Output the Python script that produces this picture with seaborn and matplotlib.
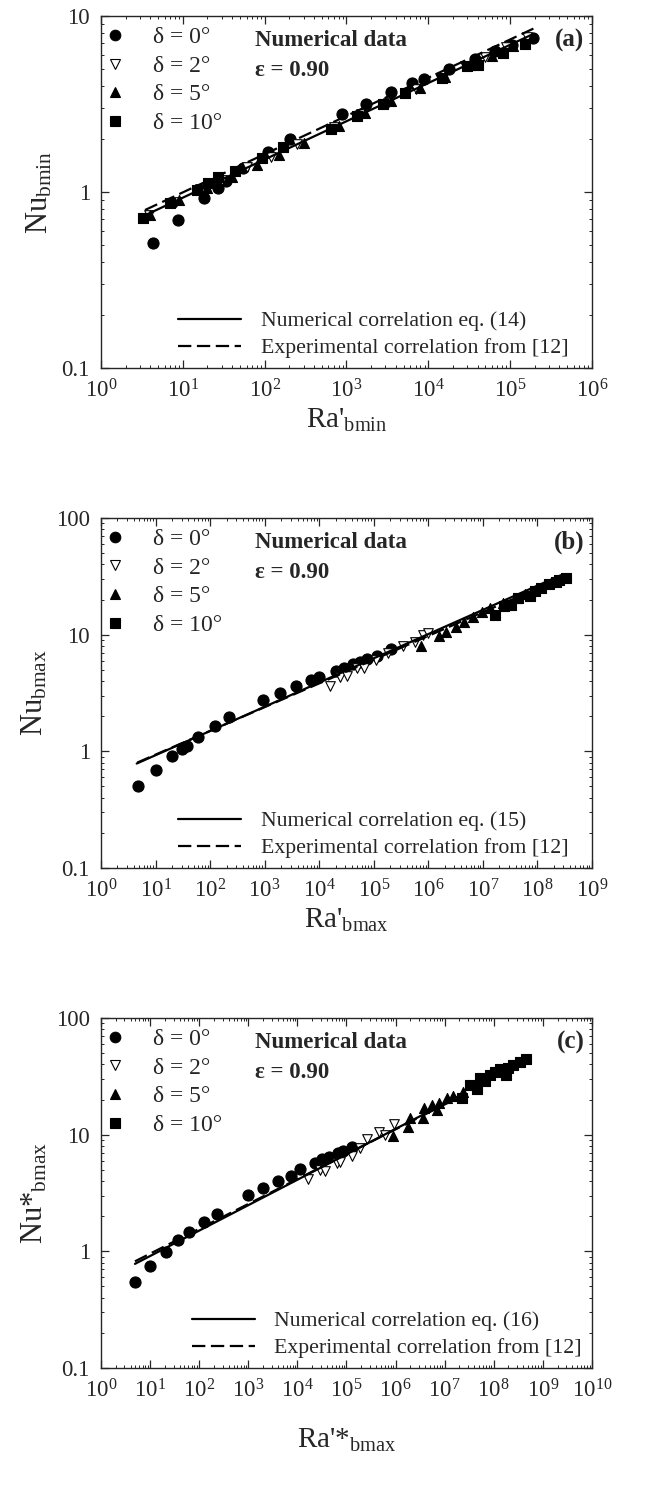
import numpy as np
import pandas as pd
import seaborn as sns
import matplotlib.pyplot as plt
from matplotlib.lines import Line2D
from matplotlib.ticker import LogLocator, FuncFormatter, NullFormatter

# ---- panel (a): Nu_bmin vs Ra'_bmin ----
a_d0_x = [4.36, 8.8, 18.3, 26.7, 33.8, 55, 111, 204, 871, 1725, 3510, 6395, 8970, 18100, 37300, 65600, 105000, 193000]
a_d0_y = [0.51, 0.69, 0.92, 1.05, 1.15, 1.36, 1.69, 1.99, 2.76, 3.17, 3.68, 4.14, 4.38, 4.98, 5.72, 6.31, 6.88, 7.53]
a_d2_x = [3.8, 8.2, 16, 30, 60, 120, 250, 700, 1500, 3200, 7000, 14000, 28000, 50000, 90000, 160000]
a_d2_y = [0.74, 0.88, 1.04, 1.17, 1.38, 1.58, 1.88, 2.33, 2.76, 3.22, 3.86, 4.45, 5.22, 5.88, 6.7, 7.55]
a_d5_x = [4.0, 9, 20, 40, 80, 150, 300, 800, 1700, 3500, 8000, 16000, 32000, 60000, 110000]
a_d5_y = [0.74, 0.9, 1.06, 1.22, 1.42, 1.63, 1.9, 2.38, 2.8, 3.28, 3.9, 4.5, 5.3, 5.95, 6.75]
a_d10_x = [3.29, 7.0, 14.8, 20.5, 27.2, 43.5, 92, 169, 643, 1336, 2826, 5200, 14600, 29600, 41000, 82800, 151000]
a_d10_y = [0.71, 0.865, 1.03, 1.12, 1.21, 1.32, 1.56, 1.79, 2.29, 2.71, 3.17, 3.64, 4.46, 5.18, 5.28, 6.13, 6.96]
a_num_x, a_num_y = [3.3, 185000], [0.73, 7.84]
a_exp_x, a_exp_y = [3.45, 193000], [0.79, 8.48]

# ---- panel (b): Nu_bmax vs Ra'_bmax ----
b_d0_x = [4.8, 10, 20, 30, 38, 60, 122, 224, 940, 1900, 3830, 7010, 9830, 20700, 28200, 41800, 55400, 75400, 115000, 211000]
b_d0_y = [0.505, 0.69, 0.91, 1.04, 1.11, 1.33, 1.66, 1.95, 2.73, 3.17, 3.6, 4.05, 4.3, 4.92, 5.16, 5.6, 5.87, 6.24, 6.61, 7.52]
b_d2_x = [15600, 24500, 33000, 50200, 66500, 112000, 183000, 344000, 564000, 802000, 989000]
b_d2_y = [3.6, 4.33, 4.38, 5.16, 5.16, 6.05, 6.93, 7.98, 8.6, 9.97, 10.3]
b_d5_x = [746000, 1.55e6, 2.1e6, 3.27e6, 4.5e6, 6.59e6, 9.5e6, 1.33e7, 2.34e7, 4.1e7, 6e7]
b_d5_y = [7.98, 9.68, 10.5, 11.7, 12.9, 14.2, 15.6, 16.9, 18.8, 20.8, 22.5]
b_d10_x = [1.71e7, 2.4e7, 3.32e7, 4.5e7, 7.2e7, 9e7, 1.18e8, 1.67e8, 2.2e8, 2.55e8, 3.38e8]
b_d10_y = [14.6, 17.5, 18.0, 20.5, 21.4, 23.5, 24.9, 27.0, 28.5, 29.5, 30.8]
b_num_x, b_num_y = [4.5, 3e8], [0.785, 33.0]
b_exp_x, b_exp_y = [4.6, 3.2e8], [0.80, 31.5]

# ---- panel (c): Nu*_bmax vs Ra'*_bmax ----
c_d0_x = [4.9, 10, 20.7, 36.5, 62, 127, 227, 1000, 2020, 4090, 7400, 11300, 22800, 32200, 44700, 68200, 86300, 128000]
c_d0_y = [0.55, 0.75, 0.98, 1.24, 1.45, 1.78, 2.1, 3.04, 3.5, 4.0, 4.46, 5.07, 5.7, 6.23, 6.49, 7.0, 7.3, 7.89]
c_d2_x = [16700, 28900, 36500, 63000, 73800, 128000, 188000, 257000, 465000, 608000, 927000]
c_d2_y = [4.13, 4.93, 4.87, 5.7, 5.78, 6.6, 7.65, 9.1, 10.6, 9.96, 12.3]
c_d5_x = [871000, 1.81e6, 1.96e6, 3.67e6, 3.85e6, 5.43e6, 6.88e6, 7.65e6, 1.1e7, 1.5e7, 2.4e7]
c_d5_y = [9.7, 11.6, 13.9, 13.9, 16.9, 18.0, 16.2, 18.7, 20.8, 21.5, 23.4]
c_d10_x = [2.21e7, 3.27e7, 4.48e7, 5.23e7, 6.62e7, 8.37e7, 1.06e8, 1.34e8, 1.77e8, 1.98e8, 2.5e8, 3.42e8, 4.53e8]
c_d10_y = [20.8, 26.6, 24.8, 30.6, 28.7, 32.3, 34.5, 36.4, 32.6, 37.5, 39.7, 42.1, 44.6]
c_num_x, c_num_y = [4.9, 2e7], [0.78, 21.5]
c_exp_x, c_exp_y = [4.9, 2e7], [0.82, 21.0]

delta_labels = ['δ = 0°', 'δ = 2°', 'δ = 5°', 'δ = 10°']

sns.set_style('ticks')
plt.rcParams['font.family'] = ['Liberation Serif', 'DejaVu Serif']
plt.rcParams['mathtext.fontset'] = 'custom'
plt.rcParams['mathtext.rm'] = 'Liberation Serif'
plt.rcParams['mathtext.it'] = 'Liberation Serif:italic'
plt.rcParams['mathtext.bf'] = 'Liberation Serif:bold'
plt.rcParams['font.size'] = 16
plt.rcParams['axes.linewidth'] = 1.0

fig = plt.figure(figsize=(6.65, 14.97), dpi=100)

# marker styles: (marker, face, size)
mstyles = [('o', 'black', 64), ('v', 'white', 48), ('^', 'black', 52), ('s', 'black', 48)]

panels = [
    dict(rect=[0.152, 0.7542, 0.738, 0.2351],
         pts=[(a_d0_x, a_d0_y), (a_d2_x, a_d2_y), (a_d5_x, a_d5_y), (a_d10_x, a_d10_y)],
         num=(a_num_x, a_num_y), exp=(a_exp_x, a_exp_y),
         xlim=(1, 1e6), ylim=(0.1, 10), tag='(a)', eq='Numerical correlation eq. (14)',
         xlabel="Ra'$_{\\mathrm{bmin}}$", ylabel="Nu$_{\\mathrm{bmin}}$", xpad=3, legx=0.972),
    dict(rect=[0.152, 0.4202, 0.738, 0.2338],
         pts=[(b_d0_x, b_d0_y), (b_d2_x, b_d2_y), (b_d5_x, b_d5_y), (b_d10_x, b_d10_y)],
         num=(b_num_x, b_num_y), exp=(b_exp_x, b_exp_y),
         xlim=(1, 1e9), ylim=(0.1, 100), tag='(b)', eq='Numerical correlation eq. (15)',
         xlabel="Ra'$_{\\mathrm{bmax}}$", ylabel="Nu$_{\\mathrm{bmax}}$", xpad=3, legx=0.972),
    dict(rect=[0.152, 0.0862, 0.738, 0.2338],
         pts=[(c_d0_x, c_d0_y), (c_d2_x, c_d2_y), (c_d5_x, c_d5_y), (c_d10_x, c_d10_y)],
         num=(c_num_x, c_num_y), exp=(c_exp_x, c_exp_y),
         xlim=(1, 1e10), ylim=(0.1, 100), tag='(c)', eq='Numerical correlation eq. (16)',
         xlabel="Ra'*$_{\\mathrm{bmax}}$", ylabel="Nu*$_{\\mathrm{bmax}}$", xpad=18, legx=1.0),
]

for p in panels:
    ax = fig.add_axes(p['rect'])
    for (xs, ys), (m, fc, s) in zip(p['pts'], mstyles):
        sns.scatterplot(x=xs, y=ys, marker=m, color=fc, edgecolor='black',
                        linewidth=0.8, s=s, ax=ax, zorder=3)
    sns.lineplot(x=p['num'][0], y=p['num'][1], color='black', lw=1.6, ax=ax, zorder=4)
    sns.lineplot(x=p['exp'][0], y=p['exp'][1], color='black', lw=1.6, ax=ax, zorder=4,
                 linestyle=(0, (6, 2.5)))
    ax.set_xscale('log')
    ax.set_yscale('log')
    ax.set_xlim(*p['xlim'])
    ax.set_ylim(*p['ylim'])

    ax.xaxis.set_major_locator(LogLocator(base=10, numticks=30))
    ax.xaxis.set_minor_locator(LogLocator(base=10, subs=np.arange(2, 10), numticks=200))
    ax.xaxis.set_minor_formatter(NullFormatter())
    ax.yaxis.set_major_locator(LogLocator(base=10, numticks=30))
    ax.yaxis.set_minor_locator(LogLocator(base=10, subs=np.arange(2, 10), numticks=200))
    ax.yaxis.set_major_formatter(FuncFormatter(lambda v, _: f'{v:g}'))
    ax.yaxis.set_minor_formatter(NullFormatter())
    ax.tick_params(which='both', direction='in', top=True, right=True, labelsize=16.5)
    ax.tick_params(which='major', length=5.5, width=0.9, pad=8)
    ax.tick_params(which='minor', length=2.5, width=0.7)

    ax.set_xlabel(p['xlabel'], fontsize=21, labelpad=p['xpad'])
    ax.set_ylabel(p['ylabel'], fontsize=22, labelpad=5)

    mh = [Line2D([], [], linestyle='none', marker=m, markerfacecolor=fc, markeredgecolor='black',
                 markeredgewidth=0.8, markersize=np.sqrt(s) * 0.95)
          for (m, fc, s) in mstyles]
    leg1 = ax.legend(mh, delta_labels, loc='upper left', bbox_to_anchor=(-0.012, 1.0),
                     frameon=False, fontsize=17, handlelength=0.8, handletextpad=1.2,
                     labelspacing=0.3, borderaxespad=0.05)
    ax.add_artist(leg1)
    lh = [Line2D([], [], color='black', lw=1.6),
          Line2D([], [], color='black', lw=1.6, linestyle=(0, (6, 2.5)))]
    ax.legend(lh, [p['eq'], 'Experimental correlation from [12]'], loc='lower right',
              bbox_to_anchor=(p['legx'], 0.0), frameon=False, fontsize=15.7, handlelength=2.9,
              handletextpad=0.9, labelspacing=0.3, borderaxespad=0.05)

    ax.text(0.314, 0.93, 'Numerical data', transform=ax.transAxes, fontsize=16.5,
            fontweight='bold', va='center', ha='left')
    ax.text(0.314, 0.845, 'ε = 0.90', transform=ax.transAxes, fontsize=16.5,
            fontweight='bold', va='center', ha='left')
    ax.text(0.985, 0.93, p['tag'], transform=ax.transAxes, fontsize=18,
            fontweight='bold', va='center', ha='right')

fig.savefig('out.png', dpi=100)
